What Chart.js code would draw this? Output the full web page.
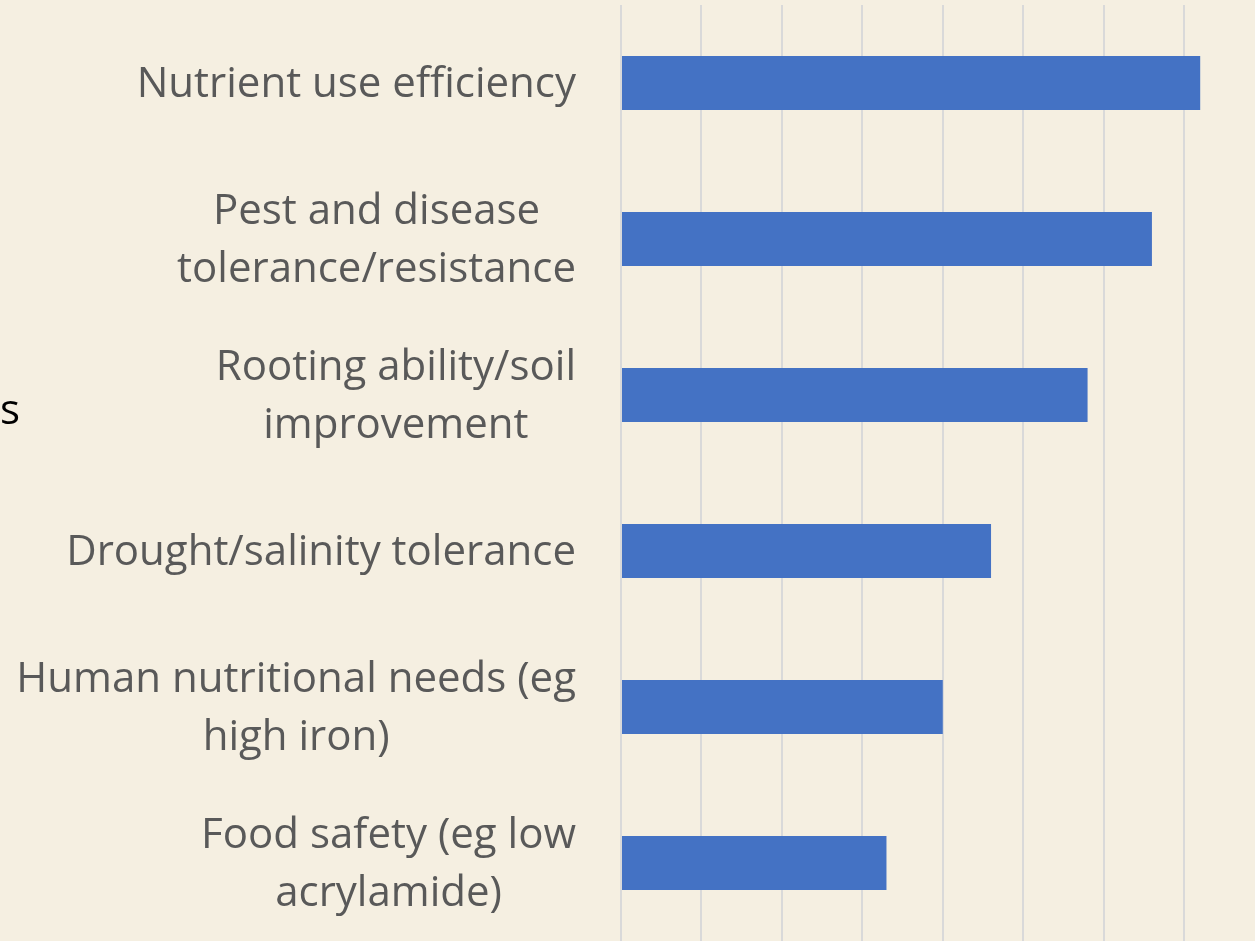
<!DOCTYPE html>
<html>
<head>
<meta charset="utf-8">
<script src="https://cdn.jsdelivr.net/npm/chart.js@4/dist/chart.umd.min.js"></script>
<style>
  html, body { margin: 0; padding: 0; background: #F5EFE1; overflow: hidden; width: 1255px; height: 941px; }
  #wrap { position: absolute; left: 0; top: 0; width: 1345px; height: 941px; }
  #frag { position: absolute; left: 0px; top: 387px; font-family: 'Open Sans', sans-serif; font-size: 42px; color: #000; line-height: 1; }
</style>
</head>
<body>
<div id="wrap"><canvas id="c"></canvas></div>
<div id="frag">s</div>
<script>
const categories = [
  ["Nutrient use efficiency"],
  ["Pest and disease", "tolerance/resistance"],
  ["Rooting ability/soil", "improvement"],
  ["Drought/salinity tolerance"],
  ["Human nutritional needs (eg", "high iron)"],
  ["Food safety (eg low", "acrylamide)"]
];
const values = [72, 66, 58, 46, 40, 33];
const xMin = 0, xMax = 90, xStep = 10;

const labelPlugin = {
  id: 'catLabels',
  afterDraw(chart) {
    const ctx = chart.ctx;
    const y = chart.scales.y;
    ctx.save();
    ctx.font = '42px "Open Sans", sans-serif';
    ctx.fillStyle = '#595959';
    ctx.textAlign = 'center';
    ctx.textBaseline = 'middle';
    const lh = 58;
    const right = 576;
    categories.forEach((lines, i) => {
      const cy = y.getPixelForValue(i) + 2;
      const w = Math.max(...lines.map(l => ctx.measureText(l).width));
      const cx = right - w / 2;
      lines.forEach((l, k) => {
        ctx.fillText(l, cx, cy - (lines.length - 1) * lh / 2 + k * lh);
      });
    });
    ctx.restore();
  }
};

new Chart(document.getElementById('c'), {
  type: 'bar',
  data: {
    labels: categories,
    datasets: [{
      data: values,
      backgroundColor: '#4472C4',
      borderWidth: 0,
      barPercentage: 0.346,
      categoryPercentage: 1
    }]
  },
  options: {
    indexAxis: 'y',
    responsive: true,
    maintainAspectRatio: false,
    animation: false,
    layout: { padding: { left: 621, top: 5, right: 0, bottom: 0 } },
    plugins: { legend: { display: false }, tooltip: { enabled: false } },
    scales: {
      x: {
        min: xMin, max: xMax,
        ticks: { display: false, stepSize: xStep },
        grid: { color: '#D9D9D9', lineWidth: 2, drawTicks: false },
        border: { display: false }
      },
      y: {
        ticks: { display: false },
        grid: { display: false, drawTicks: false },
        border: { display: false }
      }
    }
  },
  plugins: [labelPlugin]
});
</script>
</body>
</html>
